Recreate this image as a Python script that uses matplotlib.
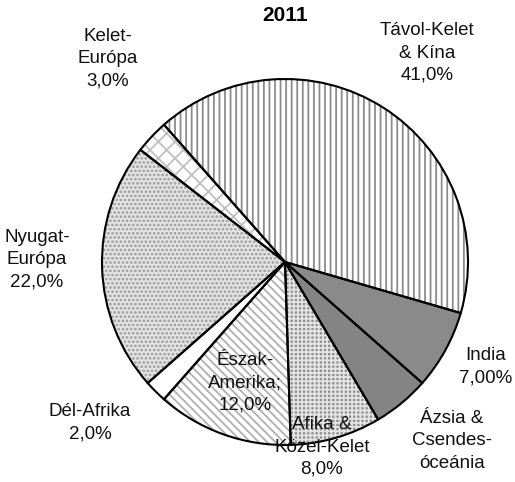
import matplotlib
matplotlib.use("Agg")
import matplotlib.pyplot as plt

plt.rcParams['font.family'] = ['Liberation Sans', 'DejaVu Sans']
plt.rcParams['hatch.linewidth'] = 1.3

title = "2011"
categories = ["Távol-Kelet\n& Kína", "India", "Ázsia &\nCsendes-\nóceánia", "Afika &\nKözel-Kelet",
              "Észak-\nAmerika;", "Dél-Afrika", "Nyugat-\nEurópa", "Kelet-\nEurópa"]
values = [41, 7, 5, 8, 12, 2, 22, 3]
pct_labels = ["41,0%", "7,00%", "", "8,0%", "12,0%", "2,0%", "22,0%", "3,0%"]

faces = ['white', '#8a8a8a', '#848484', '#909090', 'white', 'white', '#e4e4e4', 'white']
hatches = ['|||', '', '', '++++', '\\\\\\\\', '', '....', 'xx']
hatch_cols = ['#8c8c8c', '#8a8a8a', '#848484', '#e4e4e4', '#b0b0b0', 'white', '#9a9a9a', '#c0c0c0']

# label positions (data units, pie radius = 1)
label_pos = [(0.776, 1.142), (1.098, -0.574), (0.913, -0.978), (0.202, -1.011),
             (-0.219, -0.661), (-1.066, -0.88), (-1.355, 0.011), (-0.967, 1.11)]

fig = plt.figure(figsize=(5.15, 4.82), dpi=100)
ax = fig.add_axes([0, 0, 1, 1])

w1, _ = ax.pie(values, startangle=131.4, counterclock=False, radius=1.0,
               wedgeprops=dict(linewidth=0))
for w, fc, h, hc in zip(w1, faces, hatches, hatch_cols):
    w.set_facecolor(fc)
    w.set_edgecolor(hc)
    w.set_hatch(h)
    w.set_linewidth(0)

ax.pie(values, startangle=131.4, counterclock=False, radius=1.0,
       wedgeprops=dict(fill=False, edgecolor='black', linewidth=1.5))

ax.set_xlim(-285 / 183, (515 - 285) / 183)
ax.set_ylim((262 - 482) / 183, 262 / 183)
ax.set_aspect('equal')
ax.axis('off')

for cat, pct, (x, y) in zip(categories, pct_labels, label_pos):
    txt = cat if not pct else cat + "\n" + pct
    ax.text(x, y, txt, ha='center', va='center', fontsize=13.5,
            linespacing=1.4, color='#111111')

ax.text(0.0, (262 - 16) / 183, title, ha='center', va='center',
        fontsize=15, fontweight='bold')

fig.savefig("out.png", dpi=100)
